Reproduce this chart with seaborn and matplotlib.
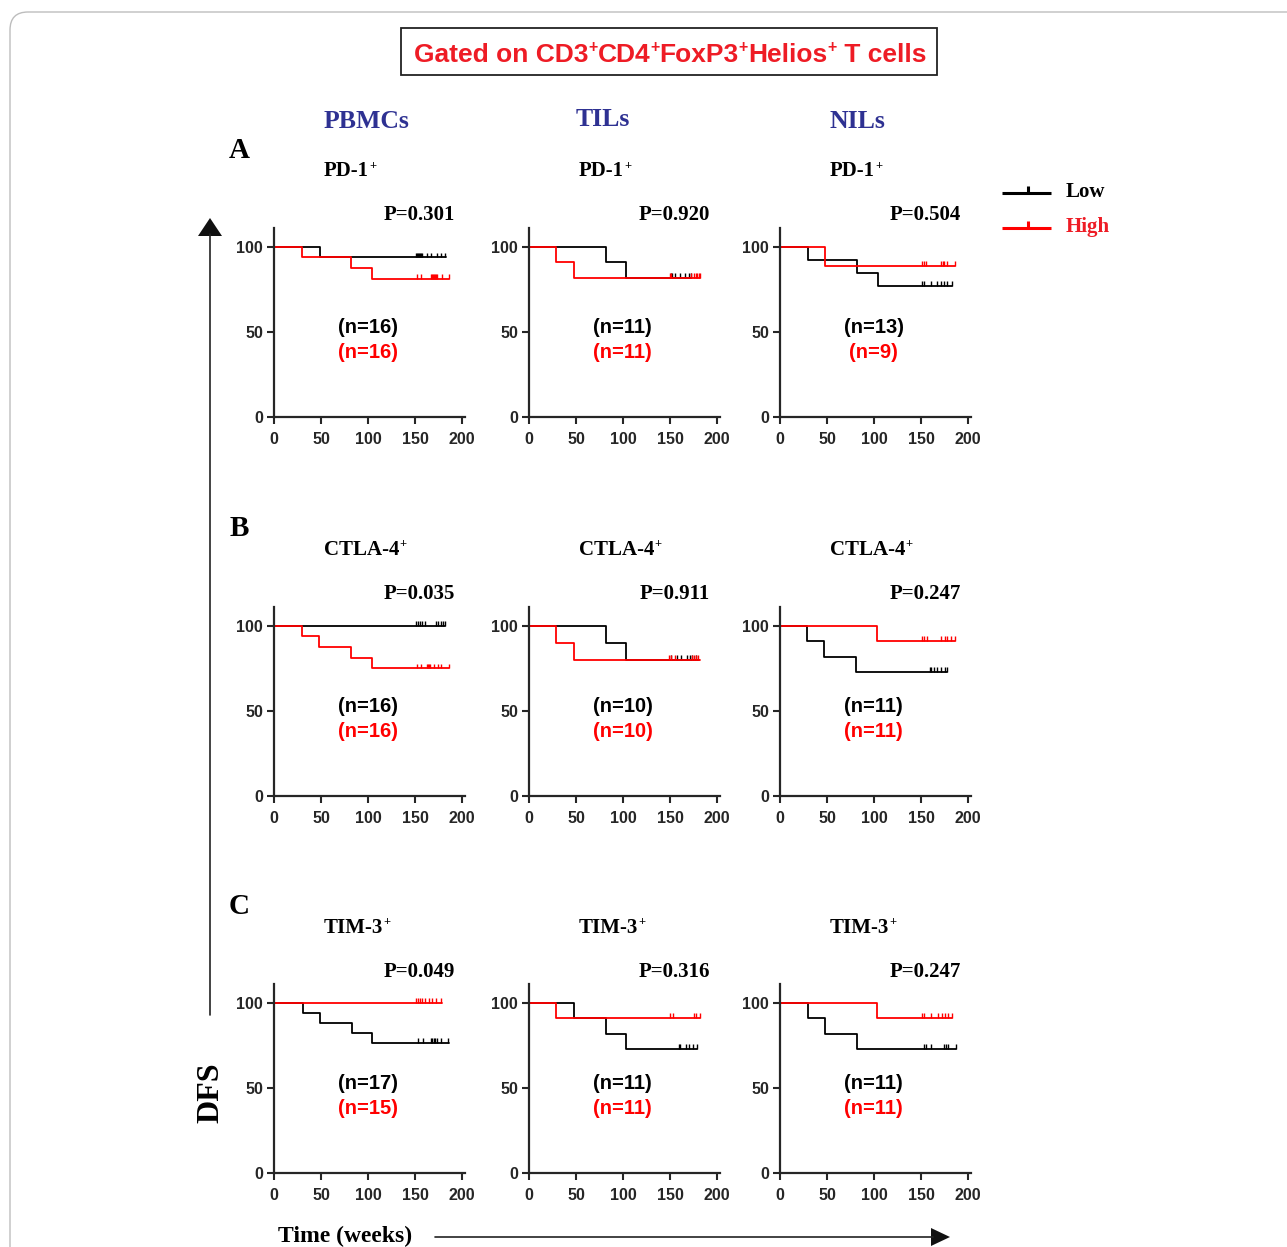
import numpy as np
import pandas as pd
import seaborn as sns
import matplotlib
matplotlib.use("Agg")
import matplotlib.pyplot as plt
from matplotlib.patches import FancyBboxPatch, Rectangle, Polygon

sns.set_style("ticks")
plt.rcParams["font.family"] = ["Liberation Sans", "DejaVu Sans"]

SERIF = ["Liberation Serif", "DejaVu Serif"]
SANS = ["Liberation Sans", "DejaVu Sans"]

# ---------------- data ----------------
columns = ["PBMCs", "TILs", "NILs"]
row_letters = ["A", "B", "C"]
markers = ["PD-1", "CTLA-4", "TIM-3"]
p_values = [["0.301", "0.920", "0.504"],
            ["0.035", "0.911", "0.247"],
            ["0.049", "0.316", "0.247"]]
n_low = [[16, 11, 13], [16, 10, 11], [17, 11, 11]]
n_high = [[16, 11, 9], [16, 10, 11], [15, 11, 11]]

# Low-expression group: event weeks, DFS (%) after each event, censored weeks, last follow-up
low_events = [[[49], [82, 103], [30, 82, 104]],
              [[], [82, 103], [29, 47, 81]],
              [[31, 49, 83, 104], [48, 82, 103], [30, 48, 82]]]
low_surv = [[[93.75], [90.9, 81.8], [92.3, 84.6, 76.9]],
            [[], [90.0, 80.0], [90.9, 81.8, 72.7]],
            [[94.1, 88.2, 82.4, 76.5], [90.9, 81.8, 72.7], [90.9, 81.8, 72.7]]]
low_cens = [[[151, 152, 153, 154, 155, 156, 157, 163, 167, 173, 177, 182],
             [151, 152, 155, 160, 166, 170, 172],
             [151, 153, 160, 167, 171, 174, 178, 183]],
            [[151, 153, 155, 157, 161, 172, 174, 177, 180, 182],
             [151, 157, 162, 168, 171, 173, 177],
             [159, 161, 164, 167, 171, 175, 178]],
            [[153, 158, 167, 168, 170, 171, 173, 177, 185],
             [159, 160, 167, 170, 174, 179],
             [153, 155, 160, 174, 176, 179, 187]]]
low_end = [[183, 172, 183], [182, 181, 178], [186, 179, 187]]

# High-expression group
high_events = [[[30, 82, 104], [29, 48], [48]],
               [[30, 48, 82, 104], [29, 48], [103]],
               [[], [29], [103]]]
high_surv = [[[93.75, 87.5, 81.25], [90.9, 81.8], [88.9]],
             [[93.75, 87.5, 81.25, 75.0], [90.0, 80.0], [90.9]],
             [[], [90.9], [90.9]]]
high_cens = [[[152, 156, 167, 168, 169, 170, 171, 172, 173, 179, 186],
              [150, 151, 172, 175, 177, 179, 181, 182],
              [151, 153, 155, 171, 173, 174, 178, 186]],
             [[152, 156, 163, 164, 165, 166, 170, 174, 178, 186],
              [149, 151, 155, 173, 175, 178, 180],
              [151, 153, 156, 171, 175, 178, 182, 186]],
             [[151, 153, 155, 157, 160, 165, 168, 172, 177],
              [150, 153, 175, 177, 182],
              [151, 153, 161, 168, 172, 175, 179, 183]]]
high_end = [[186, 182, 186], [186, 182, 186], [179, 182, 183]]

LOW_C = "#000000"
HIGH_C = "#FF0000"
TEXT_RED = "#EE1C25"
HEAD_BLUE = "#2E3192"

# ---------------- figure ----------------
W, H = 1287, 1247
fig = plt.figure(figsize=(W / 100, H / 100), dpi=100)
renderer = fig.canvas.get_renderer()

col_left = [274, 529, 780]
row_bottom = [417, 796, 1173]
ax_w, ax_h = 191, 189


def curve_frame(events, surv, end):
    t = [0] + list(events) + [end]
    s = [100] + list(surv) + [surv[-1] if surv else 100]
    return pd.DataFrame({"time": t, "DFS": s})


for r in range(3):
    for c in range(3):
        left = col_left[c]
        bottom = row_bottom[r]
        ax = fig.add_axes([left / W, 1 - bottom / H, ax_w / W, ax_h / H])
        groups = [("Low", low_events, low_surv, low_cens, low_end, LOW_C),
                  ("High", high_events, high_surv, high_cens, high_end, HIGH_C)]
        for name, ev, sv, cn, en, col in groups:
            df = curve_frame(ev[r][c], sv[r][c], en[r][c])
            sns.lineplot(data=df, x="time", y="DFS", ax=ax, color=col,
                         drawstyle="steps-post", estimator=None, sort=False,
                         linewidth=1.3, legend=False)
            level = sv[r][c][-1] if sv[r][c] else 100
            ax.vlines(cn[r][c], level, level + 2.8, color=col, linewidth=1.0)
        ax.set_xlim(0, 203)
        ax.set_ylim(0, 111)
        ax.set_xticks([0, 50, 100, 150, 200])
        ax.set_yticks([0, 50, 100])
        ax.set_xlabel("")
        ax.set_ylabel("")
        ax.patch.set_alpha(0)
        for s in ["top", "right"]:
            ax.spines[s].set_visible(False)
        for s in ["left", "bottom"]:
            ax.spines[s].set_linewidth(1.6)
        ax.tick_params(axis="both", length=5, width=1.5, direction="out",
                       labelsize=11.5)
        ax.tick_params(axis="x", pad=6)
        ax.tick_params(axis="y", pad=3)
        for lab in ax.get_xticklabels() + ax.get_yticklabels():
            lab.set_fontweight("bold")
            lab.set_family(SANS)
        ax.text(0.49, 0.476, f"(n={n_low[r][c]})", transform=ax.transAxes,
                ha="center", va="center", fontsize=14.5, fontweight="bold",
                color=LOW_C, family=SANS)
        ax.text(0.49, 0.34, f"(n={n_high[r][c]})", transform=ax.transAxes,
                ha="center", va="center", fontsize=14.5, fontweight="bold",
                color=HIGH_C, family=SANS)

# ---------------- annotation layer in pixel coordinates ----------------
ov = fig.add_axes([0, 0, 1, 1])
ov.set_xlim(0, W)
ov.set_ylim(H, 0)
ov.axis("off")
ov.patch.set_alpha(0)


def rich_text(x, baseline, segments, size, family, color, ha="left"):
    """Draw text pieces in a row; pieces flagged True are small raised superscripts."""
    arts = []
    widths = []
    for txt, sup in segments:
        fs = size * 0.6 if sup else size
        t = ov.text(0, baseline, txt, ha="left", va="baseline", fontsize=fs,
                    fontweight="bold", color=color, family=family)
        bb = t.get_window_extent(renderer)
        arts.append((t, sup))
        widths.append(bb.width)
    total = sum(widths)
    start = x - total / 2 if ha == "center" else x
    cur = start
    raise_px = size * 100 / 72 * 0.36
    for (t, sup), w in zip(arts, widths):
        t.set_position((cur, baseline - raise_px if sup else baseline))
        cur += w


# outer rounded frame
ov.add_patch(FancyBboxPatch((10, 12), 1320, 1290,
                            boxstyle="round,pad=0,rounding_size=18",
                            facecolor="none", edgecolor="#BDBDBD", linewidth=1.0))

# title box
ov.add_patch(Rectangle((401, 28), 536, 47, facecolor="white",
                       edgecolor="#222222", linewidth=1.3))
rich_text(670, 61.5, [("Gated on CD3", False), ("+", True), ("CD4", False),
                      ("+", True), ("FoxP3", False), ("+", True),
                      ("Helios", False), ("+", True), (" T cells", False)],
          19, SANS, TEXT_RED, ha="center")

# column headers
for x, y, name in zip([366, 603, 857], [122, 120, 121], columns):
    ov.text(x, y, name, ha="center", va="center", fontsize=18.5,
            fontweight="bold", color=HEAD_BLUE, family=SERIF)

title_base = [176, 555, 933]
p_y = [215, 594, 972]
letter_y = [151, 529, 906]
for r in range(3):
    ov.text(239, letter_y[r], row_letters[r], ha="center", va="center",
            fontsize=21, fontweight="bold", color="black", family=SERIF)
    for c in range(3):
        left = col_left[c]
        rich_text(left + 50, title_base[r], [(markers[r], False), ("+", True)],
                  15, SERIF, "black")
        ov.text(left + 181, p_y[r], f"P={p_values[r][c]}", ha="right",
                va="center", fontsize=15, fontweight="bold", color="black",
                family=SERIF)

# legend
for y, col, lab, tc in [(193, LOW_C, "Low", "black"), (228, HIGH_C, "High", TEXT_RED)]:
    ov.plot([1002, 1051], [y, y], color=col, linewidth=2.2, solid_capstyle="butt")
    ov.plot([1028, 1028], [y - 7, y], color=col, linewidth=2.2, solid_capstyle="butt")
    ov.text(1066, y - 1, lab, ha="left", va="center", fontsize=15,
            fontweight="bold", color=tc, family=SERIF)

# DFS axis arrow
ov.plot([210, 210], [1015, 234], color="#222222", linewidth=1.2)
ov.add_patch(Polygon([[198, 236], [222, 236], [210, 218]], closed=True,
                     facecolor="#111111", edgecolor="none"))
ov.text(211, 1093, "DFS", ha="center", va="center", rotation=90, fontsize=23,
        fontweight="bold", color="black", family=SERIF)

# time axis arrow
ov.plot([435, 933], [1237, 1237], color="#222222", linewidth=1.2)
ov.add_patch(Polygon([[931, 1228], [931, 1246], [950, 1237]], closed=True,
                     facecolor="#111111", edgecolor="none"))
ov.text(278, 1236, "Time (weeks)", ha="left", va="center", fontsize=17,
        fontweight="bold", color="black", family=SERIF)

fig.savefig("out.png", dpi=100, facecolor="white")
